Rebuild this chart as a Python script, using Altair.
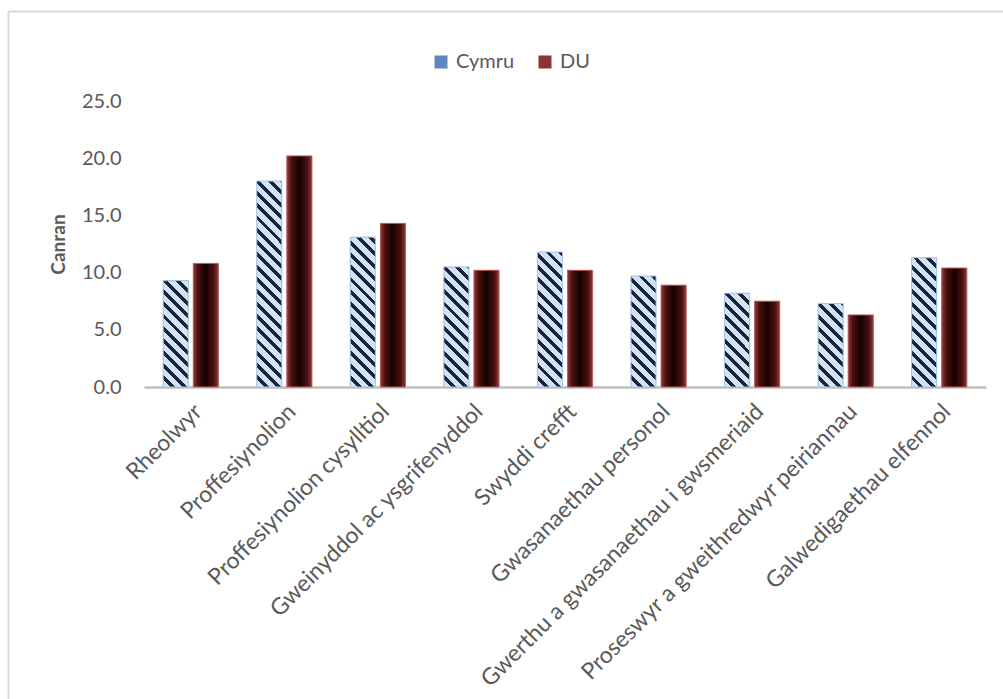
import altair as alt
import pandas as pd

categories = [
    "Rheolwyr",
    "Proffesiynolion",
    "Proffesiynolion cysylltiol",
    "Gweinyddol ac ysgrifenyddol",
    "Swyddi crefft",
    "Gwasanaethau personol",
    "Gwerthu a gwasanaethau i gwsmeriaid",
    "Proseswyr a gweithredwyr peiriannau",
    "Galwedigaethau elfennol",
]
series_names = ["Cymru", "DU"]
cymru = [9.3, 18.0, 13.1, 10.5, 11.8, 9.7, 8.2, 7.3, 11.3]
du = [10.8, 20.2, 14.3, 10.2, 10.2, 8.9, 7.5, 6.3, 10.4]
y_ticks = [0, 5, 10, 15, 20, 25]

rows = []
for c, a, b in zip(categories, cymru, du):
    rows.append({"cat": c, "series": "Cymru", "value": a})
    rows.append({"cat": c, "series": "DU", "value": b})
df = pd.DataFrame(rows)

W, H = 842, 286
PX = H / 25.0          # pixels per unit on the y scale
BAR_W = 25.1           # bar width in pixels
PERIOD = 12.3          # stripe period in pixels
LIGHT, DARK = "#d3e2f4", "#15263a"


def stripe_gradient(v):
    h = v * PX
    L = BAR_W + h
    k = L / (BAR_W ** 2 + h ** 2)
    a, b = k * BAR_W, k * h
    per = PERIOD / L
    stops = []
    t = 0.0
    while t < 1.0:
        t1 = min(t + per * 0.6, 1.0)
        t2 = min(t + per, 1.0)
        stops += [
            {"offset": round(t, 5), "color": LIGHT},
            {"offset": round(t1, 5), "color": LIGHT},
            {"offset": round(t1, 5), "color": DARK},
            {"offset": round(t2, 5), "color": DARK},
        ]
        t += per
    return {"gradient": "linear", "x1": 0, "y1": 1, "x2": round(a, 5),
            "y2": round(1 - b, 5), "stops": stops}


du_gradient = {
    "gradient": "linear",
    "x1": 0, "y1": 0, "x2": 1, "y2": 0,
    "stops": [
        {"offset": 0, "color": "#8f3a3a"},
        {"offset": 0.18, "color": "#4d1010"},
        {"offset": 0.5, "color": "#140202"},
        {"offset": 0.82, "color": "#4d1010"},
        {"offset": 1, "color": "#8f3a3a"},
    ],
}

fill_conditions = [
    {"test": f"datum.series === 'Cymru' && datum.cat === '{c}'",
     "value": stripe_gradient(v)}
    for c, v in zip(categories, cymru)
]

FONT = "Lato"
GREY = "#595959"

x_enc = alt.X(
    "cat:N", sort=categories,
    scale=alt.Scale(domain=categories, paddingInner=0.41, paddingOuter=0.205),
    axis=alt.Axis(title=None, labelAngle=-45, labelFont=FONT, labelFontSize=23,
                  labelColor=GREY, ticks=False, domainColor="#bfbfbf",
                  domainWidth=2.5, labelPadding=13, labelLimit=0),
)
xo_enc = alt.XOffset("series:N",
                     scale=alt.Scale(domain=series_names, paddingInner=0.167,
                                     paddingOuter=0))
y_enc = alt.Y(
    "value:Q", scale=alt.Scale(domain=[0, 25], nice=False),
    axis=alt.Axis(title="Canran", values=y_ticks, format=".1f", labelFont=FONT,
                  labelFontSize=20, labelColor=GREY, domain=False, ticks=False,
                  grid=False, labelPadding=23, titleFont=FONT, titleFontSize=19,
                  titleFontWeight="bold", titleColor=GREY, titlePadding=13),
)

base = alt.Chart(df).mark_bar().encode(
    x=x_enc, xOffset=xo_enc, y=y_enc,
    color=alt.Color(
        "series:N",
        scale=alt.Scale(domain=series_names, range=["#5f86bd", "#8b3434"]),
        legend=alt.Legend(title=None, orient="none", legendX=287, legendY=-49,
                          direction="horizontal", symbolType="square",
                          symbolSize=169, symbolStrokeWidth=0, labelFont=FONT,
                          labelFontSize=20, labelColor=GREY, columnPadding=20,
                          labelOffset=5),
    ),
)

overlay = alt.Chart(df).mark_bar(strokeWidth=1).encode(
    x=x_enc, xOffset=xo_enc, y=y_enc,
    fill=alt.FillValue(value=du_gradient, condition=fill_conditions),
    stroke=alt.condition("datum.series === 'Cymru'", alt.value("#a9c4e4"),
                         alt.value("#b86060")),
)

frame_df = pd.DataFrame({"k": [0]})
left_border = alt.Chart(frame_df).mark_rule(color="#d9d9d9", strokeWidth=2).encode(
    x=alt.value(-135.5), y=alt.value(-89.5), y2=alt.value(700))
top_border = alt.Chart(frame_df).mark_rule(color="#d9d9d9", strokeWidth=2).encode(
    x=alt.value(-135.5), x2=alt.value(900), y=alt.value(-89.5))

chart = alt.layer(base, overlay, left_border, top_border).properties(
    width=W, height=H,
    autosize=alt.AutoSizeParams(type="none"),
    padding={"left": 144, "top": 101, "right": 17, "bottom": 312},
    background="white",
).configure_view(stroke=None)

chart.save("out.html", embed_options={"renderer": "svg", "actions": False})
